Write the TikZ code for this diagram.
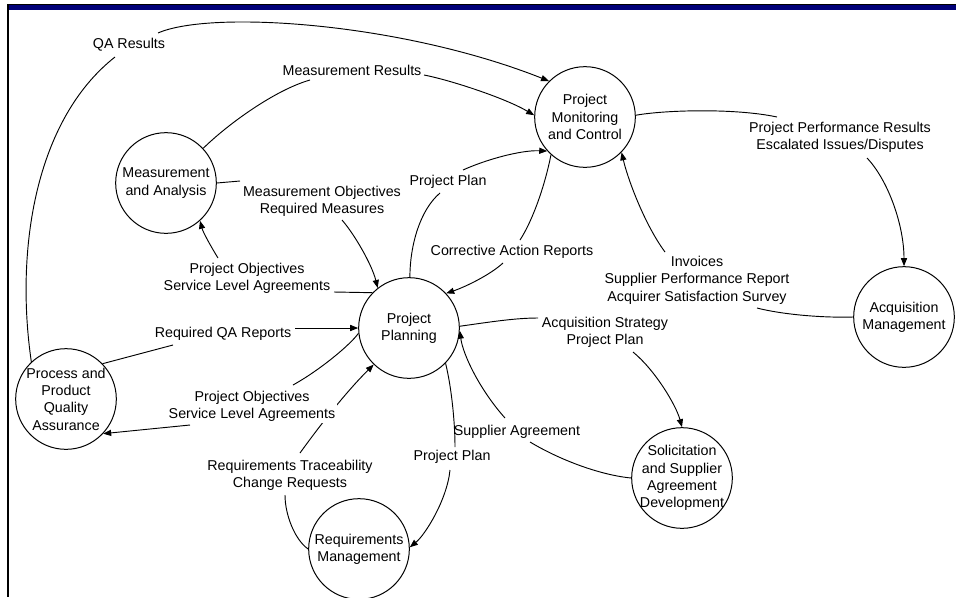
\documentclass[tikz,border=0pt]{standalone}
\usepackage{fontspec}
\setmainfont{Liberation Sans}
\usetikzlibrary{arrows.meta}
\definecolor{barblue}{RGB}{0,0,120}
\begin{document}
\begin{tikzpicture}[x=0.75pt,y=-0.75pt,
  proc/.style={circle,draw,line width=0.75pt,minimum size=75.5pt,inner sep=0pt},
  ptext/.style={inner sep=0pt,align=center,font=\fontsize{10.7}{13}\selectfont},
  lbl/.style={inner sep=0pt,align=center,font=\fontsize{10.7}{13}\selectfont},
  flow/.style={line width=0.7pt,-{Triangle[length=6pt,width=4.6pt]}},
  seg/.style={line width=0.7pt}]
\useasboundingbox (0,0) rectangle (956,597);
\fill[white] (0,0) rectangle (956,597);
% frame
\fill[barblue] (7,4) rectangle (956,9.5);
\fill[black] (7,4) rectangle (956,5.3);
\fill[black] (6.8,4) rectangle (9,597);

% processes
\node[proc] (PMC) at (585,117) {};
\node[ptext] (PMCt) at (PMC.center) {Project\\Monitoring\\and Control};
\node[proc] (MA) at (166,183) {};
\node[ptext] (MAt) at (MA.center) {Measurement\\and Analysis};
\node[proc] (PP) at (409,328) {};
\node[ptext] (PPt) at (PP.center) {Project\\Planning};
\node[proc] (PPQA) at (66,399) {};
\node[ptext] (PPQAt) at (PPQA.center) {Process and\\Product\\Quality\\Assurance};
\node[proc] (AM) at (904,317) {};
\node[ptext] (AMt) at (AM.center) {Acquisition\\Management};
\node[proc] (SSAD) at (682,478) {};
\node[ptext] (SSADt) at (SSAD.center) {Solicitation\\and Supplier\\Agreement\\Development};
\node[proc] (RM) at (359,549) {};
\node[ptext] (RMt) at (RM.center) {Requirements\\Management};

% free ends of the connectors beside their labels
\coordinate (qa1) at (115,57);   \coordinate (qa2) at (158,33);
\coordinate (mr1) at (310,80);   \coordinate (mr2) at (424,75);
\coordinate (pp1a) at (440,193); \coordinate (pp1b) at (463,170);
\coordinate (car1) at (520,240); \coordinate (car2) at (503,263);
\coordinate (inv1) at (757,308); \coordinate (inv2) at (665,252);
\coordinate (ppr1) at (777,117); \coordinate (ppr2) at (867,158);
\coordinate (mo1) at (240,181);  \coordinate (mo2) at (342,220);
\coordinate (po1a) at (334,292); \coordinate (po1b) at (218,258);
\coordinate (rqa1) at (173,345); \coordinate (rqa2) at (295,328);
\coordinate (po2a) at (293,385); \coordinate (po2b) at (190,425);
\coordinate (rt1) at (285,495);  \coordinate (rt2) at (300,453);
\coordinate (pp2a) at (455,447); \coordinate (pp2b) at (450,470);
\coordinate (sa1) at (530,442);  \coordinate (sa2) at (505,418);
\coordinate (as1) at (538,318);  \coordinate (as2) at (633,352);

% connectors
\draw[seg] (PPQA.133) .. controls (15,250) and (35,120) .. (qa1);
\draw[flow] (qa2) .. controls (210,10) and (400,22) .. (PMC.135);

\draw[seg] (MA.43) .. controls (228,124) and (275,90) .. (mr1);
\draw[flow] (mr2) .. controls (450,80) and (505,98) .. (PMC.178);

\draw[seg] (PP.89) .. controls (410,245) and (420,210) .. (pp1a);
\draw[flow] (pp1b) .. controls (485,160) and (520,150) .. (PMC.222);

\draw[seg] (PMC.228) .. controls (545,185) and (533,220) .. (car1);
\draw[flow] (car2) .. controls (490,275) and (465,287) .. (PP.43);

\draw[seg] (AM.180) .. controls (820,318) and (780,314) .. (inv1);
\draw[flow] (inv2) .. controls (645,225) and (628,180) .. (PMC.316);

\draw[seg] (PMC.2) .. controls (665,110) and (735,108) .. (ppr1);
\draw[flow] (ppr2) .. controls (888,180) and (904,225) .. (AM.90);

\draw[seg] (MA.0) -- (mo1);
\draw[flow] (mo2) .. controls (355,235) and (372,265) .. (PP.128);

\draw[seg] (PP.136) -- (po1a);
\draw[flow] (po1b) .. controls (210,245) and (203,232) .. (MA.312);

\draw[seg] (PPQA.44) -- (rqa1);
\draw[flow] (rqa2) -- (PP.180);

\draw[seg] (PP.186) .. controls (350,345) and (320,370) .. (po2a);
\draw[flow] (po2b) -- (PPQA.317);

\draw[seg] (RM.180) .. controls (295,540) and (285,515) .. (rt1);
\draw[flow] (rt2) .. controls (318,428) and (345,393) .. (PP.226);

\draw[seg] (PP.316) .. controls (451,385) and (455,420) .. (pp2a);
\draw[flow] (pp2b) .. controls (447,500) and (425,535) .. (RM.2);

\draw[seg] (SSAD.180) .. controls (600,475) and (560,460) .. (sa1);
\draw[flow] (sa2) .. controls (480,390) and (463,355) .. (PP.357);

\draw[seg] (PP.2) .. controls (490,322) and (515,318) .. (as1);
\draw[flow] (as2) .. controls (655,370) and (676,405) .. (SSAD.90);

% labels
\node[lbl] (lQA) at (129,45) {QA Results};
\node[lbl] (lMR) at (352,70) {Measurement Results};
\node[lbl] (lPP1) at (448,182) {Project Plan};
\node[lbl] (lCAR) at (512,252) {Corrective Action Reports};
\node[lbl] (lINV) at (697,280) {Invoices\\Supplier Performance Report\\Acquirer Satisfaction Survey};
\node[lbl] (lPPR) at (840,137) {Project Performance Results\\Escalated Issues/Disputes};
\node[lbl] (lMO) at (322,201) {Measurement Objectives\\Required Measures};
\node[lbl] (lPO1) at (247,278) {Project Objectives\\Service Level Agreements};
\node[lbl] (lRQA) at (223,334) {Required QA Reports};
\node[lbl,fill=white,inner sep=1.5pt] (lPO2) at (252,406) {Project Objectives\\Service Level Agreements};
\node[lbl] (lRT) at (290,475) {Requirements Traceability\\Change Requests};
\node[lbl] (lPP2) at (452,457) {Project Plan};
\node[lbl] (lSA) at (517,432) {Supplier Agreement};
\node[lbl] (lAS) at (605,332) {Acquisition Strategy\\Project Plan};
\end{tikzpicture}
\end{document}
